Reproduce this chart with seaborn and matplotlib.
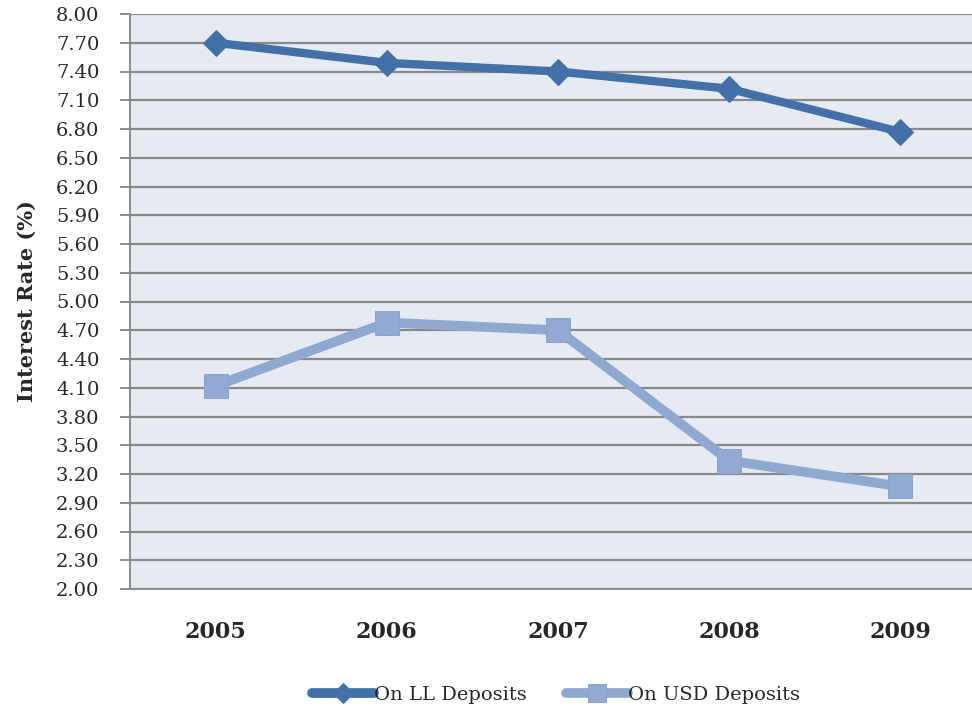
import matplotlib
matplotlib.use("Agg")
import matplotlib.pyplot as plt
import numpy as np
import pandas as pd
import seaborn as sns

years = ["2005", "2006", "2007", "2008", "2009"]
ll_deposits = [7.70, 7.49, 7.40, 7.22, 6.77]
usd_deposits = [4.12, 4.78, 4.70, 3.34, 3.07]
y_ticks = [2.00, 2.30, 2.60, 2.90, 3.20, 3.50, 3.80, 4.10, 4.40, 4.70, 5.00,
           5.30, 5.60, 5.90, 6.20, 6.50, 6.80, 7.10, 7.40, 7.70, 8.00]

sns.set_theme(style="white")
plt.rcParams["font.family"] = ["DejaVu Serif"]

df = pd.DataFrame({
    "pos": list(range(len(years))) * 2,
    "rate": ll_deposits + usd_deposits,
    "series": ["On LL Deposits"] * len(years) + ["On USD Deposits"] * len(years),
})

fig = plt.figure(figsize=(9.72, 7.10), dpi=100)
ax = fig.add_axes([130 / 972, 1 - 589 / 710, 856 / 972, 575 / 710])
ax.set_facecolor("#E6EBF3")

dark = "#4470A8"
light = "#8EA8D0"
sns.lineplot(data=df[df.series == "On LL Deposits"], x="pos", y="rate", ax=ax,
             color=dark, linewidth=6, marker="D", markersize=13,
             markeredgecolor=dark, label="On LL Deposits",
             solid_capstyle="round")
sns.lineplot(data=df[df.series == "On USD Deposits"], x="pos", y="rate", ax=ax,
             color=light, linewidth=7, marker="s", markersize=17,
             markeredgecolor="#8AA4CE", markerfacecolor="#93AAD3",
             label="On USD Deposits", solid_capstyle="round")

ax.set_xlim(-0.5, 4.5)
ax.set_ylim(2.0, 8.0)
ax.set_yticks(y_ticks)
ax.set_yticklabels([f"{v:.2f}" for v in y_ticks], fontsize=14)
ax.yaxis.grid(True, color="#888888", linewidth=1.6)
ax.set_axisbelow(True)

# category labels in the middle, ticks on the category boundaries
ax.set_xticks(range(len(years)))
ax.set_xticklabels(years, fontsize=16, fontweight="bold")
ax.set_xticks(np.arange(-0.5, 5.0, 1.0), minor=True)
ax.tick_params(axis="x", which="major", length=0, pad=23)
ax.tick_params(axis="x", which="minor", length=7, width=1.4, color="#8C8C8C", direction="out")
ax.tick_params(axis="y", length=7, width=1.4, color="#8C8C8C", direction="out", pad=15, left=True)

for side in ["top", "right"]:
    ax.spines[side].set_visible(False)
for side in ["left", "bottom"]:
    ax.spines[side].set_color("#8C8C8C")
    ax.spines[side].set_linewidth(1.4)

ax.set_xlabel("")
ax.set_ylabel("Interest Rate (%)", fontsize=15, fontweight="bold", labelpad=14)

leg = ax.legend(loc="center", bbox_to_anchor=(556 / 972, 1 - 695 / 710),
                bbox_transform=fig.transFigure, ncol=2, frameon=False,
                fontsize=14, handlelength=3.2, handletextpad=0.0, columnspacing=2.0,
                markerscale=0.75)
for h in leg.legend_handles:
    h.set_linewidth(7)

fig.savefig("out.png", dpi=100)
